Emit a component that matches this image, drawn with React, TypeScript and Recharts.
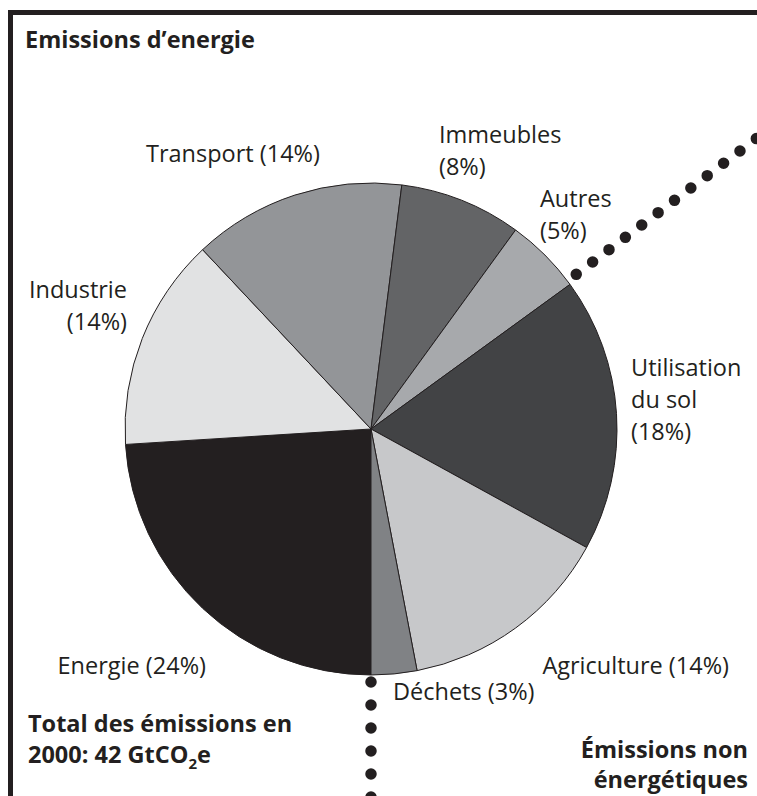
import React from 'react';
import { PieChart, Pie, Cell } from 'recharts';

const categories = ['Energie', 'Industrie', 'Transport', 'Immeubles', 'Autres', 'Utilisation du sol', 'Agriculture', 'Déchets'];
const shares = [24, 14, 14, 8, 5, 18, 14, 3];
const sliceColors = ['#231f20', '#e1e2e3', '#939598', '#636466', '#a7a9ac', '#424345', '#c7c8ca', '#808285'];
const labelLines = [
  ['Energie (24%)'],
  ['Industrie', '(14%)'],
  ['Transport (14%)'],
  ['Immeubles', '(8%)'],
  ['Autres', '(5%)'],
  ['Utilisation', 'du sol', '(18%)'],
  ['Agriculture (14%)'],
  ['Déchets (3%)'],
];

const W = 757;
const H = 796;
const CX = 371;
const CY = 429;
const R = 246;
const INK = '#231f20';
const FONT = '"Open Sans", sans-serif';

// first baseline + anchor for each slice label
const labelSpots: { x: number; y: number; anchor: 'start' | 'middle' | 'end' }[] = [
  { x: 206, y: 674, anchor: 'end' },
  { x: 127, y: 298, anchor: 'end' },
  { x: 146, y: 162, anchor: 'start' },
  { x: 439, y: 143, anchor: 'start' },
  { x: 540, y: 207, anchor: 'start' },
  { x: 631, y: 376, anchor: 'start' },
  { x: 729, y: 674, anchor: 'end' },
  { x: 393, y: 700, anchor: 'start' },
];

const data = categories.map((name, i) => ({ name, value: shares[i] }));

const polar = (cx: number, cy: number, r: number, deg: number) => ({
  x: cx + r * Math.cos((deg * Math.PI) / 180),
  y: cy - r * Math.sin((deg * Math.PI) / 180),
});

// dotted trail leaving the pie along a slice edge
const dotTrail = (cx: number, cy: number, r0: number, r1: number, deg: number, gap: number) => {
  const a = polar(cx, cy, r0, deg);
  const b = polar(cx, cy, r1, deg);
  return (
    <line x1={a.x} y1={a.y} x2={b.x} y2={b.y} stroke={INK} strokeWidth={11.5}
      strokeLinecap="round" strokeDasharray={`0 ${gap}`} />
  );
};

const renderLabel = (props: any) => {
  const { index, cx, cy, outerRadius, endAngle } = props;
  const spot = labelSpots[index];
  let trail = null;
  if (index === 4) trail = dotTrail(cx, cy, outerRadius + 11, outerRadius + 300, endAngle + 1, 20.5);
  if (index === 7) trail = dotTrail(cx, cy, outerRadius + 7, outerRadius + 160, endAngle, 23);
  return (
    <g>
      {trail}
      <text x={spot.x} y={spot.y} textAnchor={spot.anchor} fill={INK} fontSize={23.5} fontFamily={FONT}>
        {labelLines[index].map((line, i) => (
          <tspan key={i} x={spot.x} dy={i === 0 ? 0 : 32}>{line}</tspan>
        ))}
      </text>
    </g>
  );
};

const App: React.FC = () => {
  return (
    <div style={{ position: 'absolute', left: 0, top: 0, width: W, height: H, background: '#fff', overflow: 'hidden' }}>
      <div style={{ position: 'absolute', left: 8, top: 10, width: W, height: H, borderTop: `5px solid ${INK}`, borderLeft: `5px solid ${INK}` }} />
      <div style={{ position: 'absolute', left: 0, top: 0 }}>
        <PieChart width={W} height={H} margin={{ top: 0, right: 0, bottom: 0, left: 0 }}>
          <Pie
            data={data}
            dataKey="value"
            nameKey="name"
            cx={CX}
            cy={CY}
            outerRadius={R}
            startAngle={270}
            endAngle={-90}
            stroke={INK}
            strokeWidth={1}
            label={renderLabel}
            labelLine={false}
            isAnimationActive={false}
          >
            {data.map((d, i) => (
              <Cell key={d.name} fill={sliceColors[i]} />
            ))}
          </Pie>
        </PieChart>
      </div>
      <svg width={W} height={H} style={{ position: 'absolute', left: 0, top: 0, pointerEvents: 'none' }}>
        <g fill={INK} fontFamily={FONT} fontWeight={700} fontSize={23.5}>
          <text x={25} y={48}>Emissions d’energie</text>
          <text x={28} y={732}>Total des émissions en</text>
          <text x={28} y={763}>
            2000: 42 GtCO<tspan fontSize={15} dy={6}>2</tspan><tspan dy={-6}>e</tspan>
          </text>
          <text x={748} y={758} textAnchor="end">Émissions non</text>
          <text x={748} y={788} textAnchor="end">énergétiques</text>
        </g>
      </svg>
    </div>
  );
};

export default App;
